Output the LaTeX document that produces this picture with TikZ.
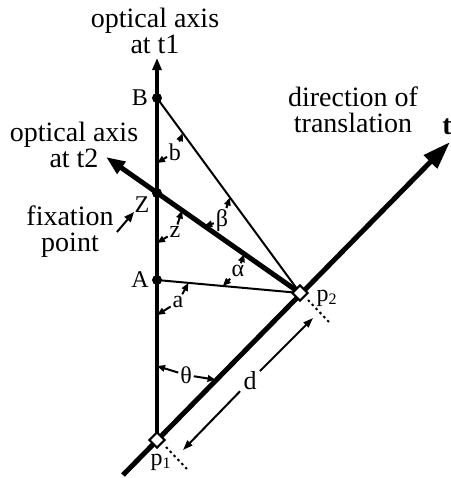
\documentclass[tikz,border=0pt]{standalone}
\usepackage{fontspec}
\setmainfont{Liberation Serif}
\usetikzlibrary{arrows.meta,calc}
\tikzset{dot/.style={circle,fill=black,inner sep=0pt,minimum size=5pt},
  pbox/.style={draw=black,fill=white,line width=1pt,rotate=45,inner sep=0pt,minimum size=5.4pt},
  lbl/.style={font=\fontsize{12}{12}\selectfont,inner sep=.8pt},
  txt/.style={font=\fontsize{14}{13}\selectfont,align=center,inner sep=0pt},
  thin/.style={line width=1pt},
  tick/.style={line width=1pt,-{Triangle[length=4pt,width=3.2pt]}},
  dim/.style={line width=1pt,shorten <=1pt,-{Triangle[length=5pt,width=3.4pt]}},
  dots/.style={line width=1pt,dash pattern=on 1.2pt off 1.6pt}}
\begin{document}
\begin{tikzpicture}[x=.5pt,y=-.5pt]
\useasboundingbox (0,0) rectangle (451,478);
% points of the construction
\coordinate (top) at (157,58);
\coordinate (B) at (157,98);
\coordinate (Z) at (157,193);
\coordinate (A) at (157,280);
\coordinate (p1) at (157,440);
\coordinate (p2) at (300,293);
\coordinate (t0) at (123,475);
\coordinate (t9) at (450,142);
\coordinate (ax2end) at (106,157);
% axes and rays
\draw[line width=1.7pt,-{Triangle[length=6pt,width=4.5pt]}] (p1) -- (top);
\draw[thin] (B) -- (p2);
\draw[thin] (A) -- (p2);
\draw[line width=2.5pt,-{Triangle[length=9.5pt,width=7pt]}] (p2) -- (ax2end);
\draw[line width=2.5pt,-{Triangle[length=14pt,width=9pt]}] (t0) -- (t9);
\node[dot] (Bd) at (B) {};
\node[dot] (Zd) at (Z) {};
\node[dot] (Ad) at (A) {};
\node[pbox] (p1b) at (p1) {};
\node[pbox] (p2b) at (p2) {};
\node[lbl] (Bl) at (140,98) {B};
\node[lbl] (Zl) at (142,205) {Z};
\node[lbl] (Al) at (140,280) {A};
\node[lbl] (p2l) at (327,298) {p\textsubscript{2}};
\node[lbl] (p1l) at (161,462) {p\textsubscript{1}};
% angle marks
\coordinate (b1) at (157,163);
\coordinate (b2) at ($(B)!.18!(p2)$);
\coordinate (z1) at (157,243);
\coordinate (z2) at ($(Z)!.175!(p2)$);
\coordinate (be1) at ($(Z)!.33!(p2)$);
\coordinate (be2) at ($(B)!.51!(p2)$);
\coordinate (al1) at ($(Z)!.61!(p2)$);
\coordinate (al2) at ($(A)!.46!(p2)$);
\coordinate (a1) at ($(A)!.22!(p2)$);
\coordinate (a2) at (157,315);
\coordinate (th1) at (157,366);
\coordinate (th2) at ($(p1)!.41!(p2)$);
\node[lbl] (b) at (175,152) {b};
\node[lbl] (z) at (175,232) {z};
\node[lbl] (be) at (222,221) {β};
\node[lbl] (al) at (238,271) {α};
\node[lbl] (a) at (178,302) {a};
\node[lbl] (th) at (186,375) {θ};
\foreach \l/\p in {b/b1,b/b2,z/z1,z/z2,be/be1,be/be2,al/al1,al/al2,a/a1,a/a2,th/th1,th/th2}
  \draw[tick] (\l) -- (\p);
% distance d
\coordinate (d1) at (313,318);
\coordinate (d2) at (183,450);
\node[lbl,font=\fontsize{13}{13}\selectfont] (d) at (250,381) {d};
\draw[dim] (d) -- (d1);
\draw[dim] (d) -- (d2);
\coordinate (q2a) at ($(p2)+(8,7)$);
\coordinate (q2b) at ($(p2)+(29,29)$);
\coordinate (q1a) at ($(p1)+(9,7)$);
\coordinate (q1b) at ($(p1)+(30,29)$);
\draw[dots] (q2a) -- (q2b);
\draw[dots] (q1a) -- (q1b);
% captions
\node[txt] (ax1) at (155,31) {optical axis\\at t1};
\node[txt] (ax2) at (74,145) {optical axis\\at t2};
\node[txt] (fix) at (70,232) {fixation\\point};
\node[txt] (dir) at (353,110) {direction of\\translation};
\node[font=\fontsize{14}{14}\selectfont\bfseries,inner sep=0pt] (tl) at (447,127) {t};
\coordinate (f1) at (134,212);
\draw[tick,-{Triangle[length=5pt,width=4pt]}] ([xshift=1.5pt]fix.east) -- (f1);
\end{tikzpicture}
\end{document}
